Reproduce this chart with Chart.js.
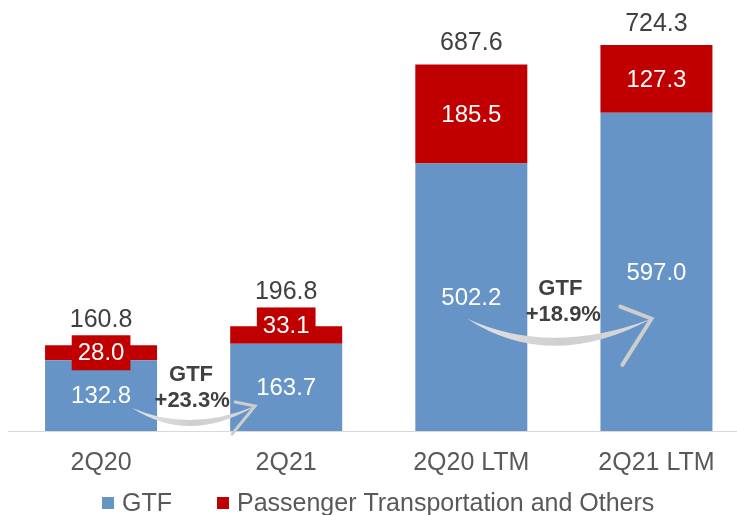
<!DOCTYPE html>
<html><head><meta charset="utf-8">
<script src="https://cdn.jsdelivr.net/npm/chart.js@4/dist/chart.umd.min.js"></script>
<style>html,body{margin:0;padding:0;overflow:hidden;background:#fff;width:737px;height:515px}#wrap{width:749px;height:515px}</style>
</head><body><div id="wrap"><canvas id="c" width="749" height="515"></canvas></div>
<script>
const categories = ['2Q20', '2Q21', '2Q20 LTM', '2Q21 LTM'];
const gtfValues = [132.8, 163.7, 502.2, 597.0];
const passengerValues = [28.0, 33.1, 185.5, 127.3];
const totalValues = [160.8, 196.8, 687.6, 724.3];
const seriesNames = ['GTF', 'Passenger Transportation and Others'];
const growthTitles = ['GTF', 'GTF'];
const growthRates = ['+23.3%', '+18.9%'];

const FONT = '"Liberation Sans", Arial, Helvetica, sans-serif';
const BLUE = '#6794c7';
const RED = '#c00000';

const overlay = {
  id: 'overlay',
  afterDatasetsDraw(chart, args, opts) {
    const ctx = chart.ctx, xs = chart.scales.x, ys = chart.scales.y;
    const step = xs.getPixelForValue(1) - xs.getPixelForValue(0);
    const px = i => xs.getPixelForValue(0) + i * step;
    const py = v => ys.getPixelForValue(v);
    ctx.save();
    // swoosh arrows
    opts.arrows.forEach(a => {
      const S = [px(a.s[0]), py(a.s[1])], T = [px(a.t[0]), py(a.t[1])];
      const C1 = [px(a.c1[0]), py(a.c1[1])], C2 = [px(a.c2[0]), py(a.c2[1])];
      const g = ctx.createLinearGradient(S[0], 0, T[0], 0);
      g.addColorStop(0, '#e4e4e4'); g.addColorStop(0.5, '#cfcfcf'); g.addColorStop(1, '#d9d9d9');
      ctx.beginPath();
      ctx.moveTo(S[0], S[1]);
      ctx.quadraticCurveTo(C2[0], C2[1], T[0], T[1]);
      ctx.quadraticCurveTo(C1[0], C1[1], S[0], S[1]);
      ctx.closePath();
      ctx.fillStyle = g; ctx.fill();
      ctx.strokeStyle = '#cdcdcd'; ctx.lineWidth = a.w; ctx.lineCap = 'round';
      ctx.beginPath();
      ctx.moveTo(px(a.b1[0]), py(a.b1[1])); ctx.lineTo(T[0], T[1]);
      ctx.lineTo(px(a.b2[0]), py(a.b2[1]));
      ctx.stroke();
    });
    // growth annotations
    ctx.fillStyle = '#404040';
    ctx.font = 'bold 22px ' + FONT;
    ctx.textAlign = 'center'; ctx.textBaseline = 'middle';
    opts.growthPos.forEach((p, k) => {
      ctx.fillText(growthTitles[k], px(p.title[0]), py(p.title[1]));
      ctx.fillText(growthRates[k], px(p.rate[0]), py(p.rate[1]));
    });
    // segment labels
    const boxTops = [];
    chart.data.datasets.forEach((ds, di) => {
      const meta = chart.getDatasetMeta(di);
      meta.data.forEach((bar, i) => {
        const p = bar.getProps(['x', 'y', 'base'], true);
        const txt = ds.data[i].toFixed(1);
        ctx.font = '24px ' + FONT;
        let cy = (p.y + p.base) / 2;
        if (di === 1) {
          cy += opts.redNudge[i];
          const w = ctx.measureText(txt).width + 12;
          ctx.fillStyle = RED;
          ctx.fillRect(p.x - w / 2, cy - 17.5, w, 35);
          boxTops[i] = cy - 17.5;
        }
        ctx.fillStyle = '#ffffff';
        ctx.fillText(txt, p.x, cy + 1);
      });
    });
    // totals
    const topMeta = chart.getDatasetMeta(1);
    ctx.font = '25px ' + FONT;
    ctx.fillStyle = '#404040';
    topMeta.data.forEach((bar, i) => {
      const p = bar.getProps(['x', 'y'], true);
      const cy = Math.min(p.y - 21, boxTops[i] - 15);
      ctx.fillText(totalValues[i].toFixed(1), p.x, cy);
    });
    ctx.restore();
  },
  afterDraw(chart, args, opts) {
    const ctx = chart.ctx;
    ctx.save();
    ctx.font = '25px ' + FONT;
    ctx.textBaseline = 'middle'; ctx.textAlign = 'left';
    let x = opts.legendX;
    const y = opts.legendY;
    chart.data.datasets.forEach((ds, di) => {
      ctx.fillStyle = ds.backgroundColor;
      ctx.fillRect(x, y - 6, 12, 12);
      x += 12 + 8;
      ctx.fillStyle = '#595959';
      ctx.fillText(ds.label, x, y + 1);
      x += ctx.measureText(ds.label).width + 45;
    });
    ctx.restore();
  }
};

new Chart(document.getElementById('c'), {
  type: 'bar',
  data: {
    labels: categories,
    datasets: [
      { label: seriesNames[0], data: gtfValues, backgroundColor: BLUE, borderWidth: 0 },
      { label: seriesNames[1], data: passengerValues, backgroundColor: RED, borderWidth: 0 }
    ]
  },
  options: {
    responsive: false,
    animation: false,
    layout: { padding: { left: 8.5, right: 0, top: 4.7, bottom: 20 } },
    datasets: { bar: { categoryPercentage: 1, barPercentage: 0.605 } },
    scales: {
      x: {
        stacked: true,
        grid: { display: false, drawTicks: false },
        border: { display: true, color: '#d9d9d9', width: 1 },
        ticks: { color: '#595959', font: { size: 25, family: FONT }, padding: 17, maxRotation: 0 }
      },
      y: { stacked: true, display: false, min: 0, max: 800 }
    },
    plugins: {
      legend: { display: false },
      tooltip: { enabled: false },
      overlay: {
        redNudge: [0, -10, 0, 0],
        legendX: 102, legendY: 503,
        growthPos: [
          { title: [0.486, 105.3], rate: [0.492, 56.4] },
          { title: [2.481, 267], rate: [2.497, 218] }
        ],
        arrows: [
          { s: [0.168, 43.3], t: [0.832, 47], c1: [0.48, -3.8], c2: [0.48, -26.3], b1: [0.724, 54.5], b2: [0.708, -5.6], w: 3 },
          { s: [1.978, 210.7], t: [2.973, 210.7], c1: [2.427, 139.2], c2: [2.427, 109.1], b1: [2.805, 233.3], b2: [2.816, 124.2], w: 4 }
        ]
      }
    }
  },
  plugins: [overlay]
});
</script>
</body></html>
